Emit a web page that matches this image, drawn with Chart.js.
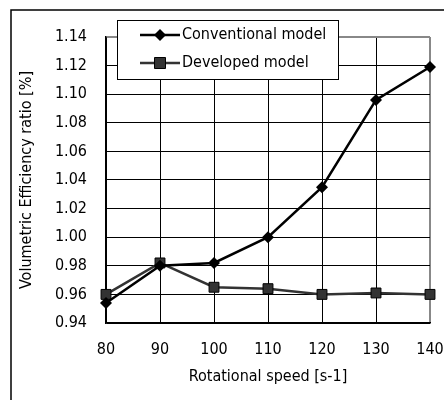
<!DOCTYPE html>
<html lang="en">
<head>
  <meta charset="UTF-8">
  <title>Volumetric Efficiency ratio</title>
  <script src="https://cdn.jsdelivr.net/npm/chart.js"></script>
  <style>
    body {
      margin: 0;
      background-color: #fff;
    }
    #wrap {
      position: relative;
      width: 444px;
      height: 400px;
    }
  </style>
</head>
<body>
  <div id="wrap">
    <canvas id="effChart" width="444" height="400"></canvas>
  </div>

  <script>
    // values
    const speeds = [80, 90, 100, 110, 120, 130, 140];
    const conventional = [0.954, 0.980, 0.982, 1.000, 1.035, 1.096, 1.119];
    const developed = [0.960, 0.982, 0.965, 0.964, 0.960, 0.961, 0.960];
    const seriesNames = ['Conventional model', 'Developed model'];

    const FONT = '"DejaVu Sans Condensed", "DejaVu Sans", sans-serif';

    // outer frame + floating legend box
    const framePlugin = {
      id: 'frame',
      afterDraw(chart) {
        const ctx = chart.ctx;
        ctx.save();
        ctx.strokeStyle = '#000';
        ctx.lineWidth = 1.5;
        ctx.beginPath();
        ctx.moveTo(11, 400);
        ctx.lineTo(11, 10);
        ctx.lineTo(444, 10);
        ctx.stroke();

        // legend
        ctx.fillStyle = '#fff';
        ctx.fillRect(117, 20, 221, 59);
        ctx.strokeStyle = '#000';
        ctx.lineWidth = 1;
        ctx.strokeRect(117.5, 20.5, 221, 59);

        const rows = [
          { y: 35, line: '#000', fill: '#000', shape: 'diamond' },
          { y: 63, line: '#333', fill: '#333', shape: 'square' }
        ];
        rows.forEach((r, i) => {
          ctx.strokeStyle = r.line;
          ctx.lineWidth = 2.5;
          ctx.beginPath();
          ctx.moveTo(140, r.y);
          ctx.lineTo(180, r.y);
          ctx.stroke();
          ctx.fillStyle = r.fill;
          ctx.beginPath();
          if (r.shape === 'diamond') {
            ctx.moveTo(160, r.y - 6);
            ctx.lineTo(166, r.y);
            ctx.lineTo(160, r.y + 6);
            ctx.lineTo(154, r.y);
            ctx.closePath();
            ctx.fill();
          } else {
            ctx.rect(154.5, r.y - 5.5, 11, 11);
            ctx.fill();
            ctx.strokeStyle = '#000';
            ctx.lineWidth = 1;
            ctx.stroke();
          }
          ctx.fillStyle = '#000';
          ctx.font = '16px ' + FONT;
          ctx.textBaseline = 'middle';
          ctx.textAlign = 'left';
          ctx.fillText(seriesNames[i], 182, r.y);
        });
        ctx.restore();
      }
    };

    const ctx = document.getElementById('effChart').getContext('2d');
    new Chart(ctx, {
      type: 'line',
      data: {
        labels: speeds,
        datasets: [
          {
            label: seriesNames[0],
            data: conventional,
            borderColor: '#000',
            backgroundColor: '#000',
            borderWidth: 2.5,
            pointStyle: 'rectRot',
            pointRadius: 6,
            pointBorderWidth: 0,
            tension: 0
          },
          {
            label: seriesNames[1],
            data: developed,
            borderColor: '#333',
            backgroundColor: '#333',
            borderWidth: 2.5,
            pointStyle: 'rect',
            pointRadius: 7,
            pointBorderColor: '#000',
            pointBorderWidth: 1,
            tension: 0
          }
        ]
      },
      options: {
        responsive: false,
        animation: false,
        layout: { padding: { top: 37, right: 14, left: 0, bottom: 0 } },
        plugins: {
          legend: { display: false },
          tooltip: { enabled: false }
        },
        scales: {
          x: {
            type: 'category',
            offset: false,
            afterFit(axis) {
              axis.height = 77;
              axis.paddingLeft = 0;
              axis.paddingRight = 0;
            },
            grid: {
              drawTicks: false,
              color: c => (c.index === speeds.length - 1 ? '#888' : '#000'),
              lineWidth: c => (c.index === speeds.length - 1 ? 2 : 1)
            },
            border: { color: '#000', width: 1.5 },
            ticks: {
              padding: 17,
              color: '#000',
              font: { family: FONT, size: 16 }
            },
            title: {
              display: true,
              text: 'Rotational speed [s-1]',
              color: '#000',
              font: { family: FONT, size: 16 },
              padding: { top: 0, bottom: 14 }
            }
          },
          y: {
            min: 0.94,
            max: 1.14,
            afterFit(axis) {
              axis.width = 106;
              axis.paddingTop = 0;
              axis.paddingBottom = 0;
            },
            grid: {
              drawTicks: false,
              color: c => (c.tick && c.tick.value > 1.139 ? '#888' : '#000'),
              lineWidth: c => (c.tick && c.tick.value > 1.139 ? 2 : 1)
            },
            border: { color: '#000', width: 1.5 },
            ticks: {
              stepSize: 0.02,
              padding: 19,
              color: '#000',
              font: { family: FONT, size: 16 },
              callback: v => v.toFixed(2)
            },
            title: {
              display: true,
              text: 'Volumetric Efficiency ratio [%]',
              color: '#000',
              font: { family: FONT, size: 16 },
              padding: { top: 17, bottom: 0 }
            }
          }
        }
      },
      plugins: [framePlugin]
    });
  </script>
</body>
</html>
